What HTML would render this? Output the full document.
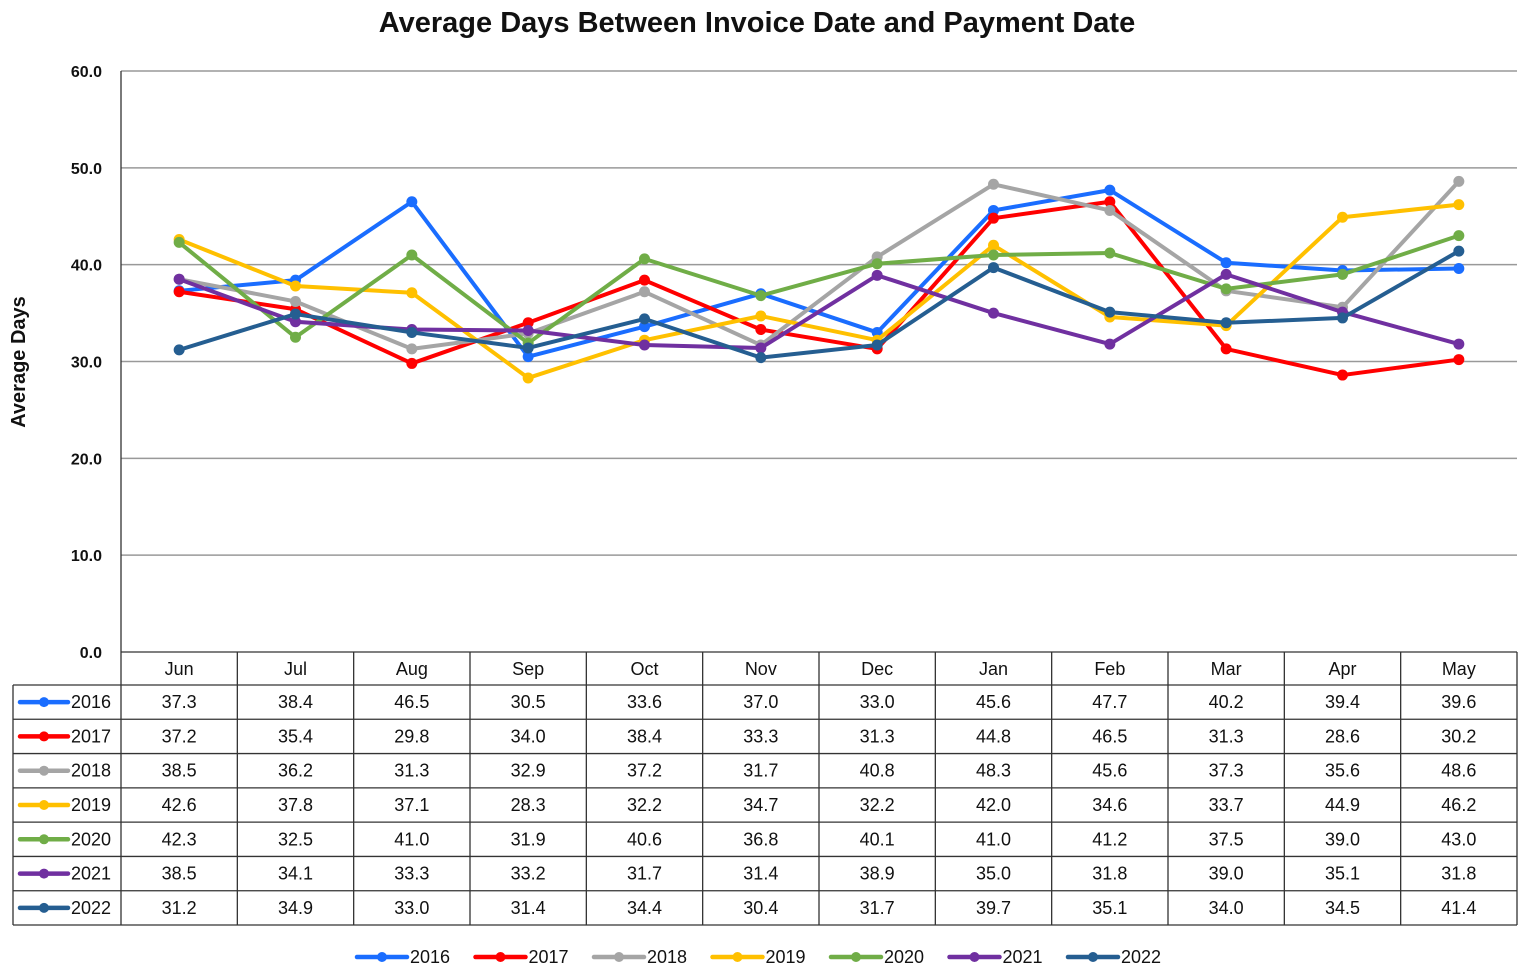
<!DOCTYPE html>
<html><head><meta charset="utf-8"><style>
body{margin:0;background:#fff;}
svg text{font-family:"Liberation Sans",sans-serif;fill:#111;}
</style></head><body>
<svg id="s" width="1525" height="975" xmlns="http://www.w3.org/2000/svg">
<text x="757" y="32" text-anchor="middle" font-size="29" font-weight="bold">Average Days Between Invoice Date and Payment Date</text>
<text transform="translate(25,362) rotate(-90)" text-anchor="middle" font-size="20" font-weight="bold">Average Days</text>
<g id="g"></g>
</svg>
<script>
var g=document.getElementById('g'),h='';
var L=121,R=1517,T=71,B=652,cw=(R-L)/12;
function Y(v){return B-v*(B-T)/60;}
for(var i=0;i<=6;i++){var y=Y(i*10);
 if(i>0)h+='<line x1="'+L+'" x2="'+R+'" y1="'+y+'" y2="'+y+'" stroke="#999" stroke-width="1.5"/>';
 h+='<text x="102" y="'+(y+6)+'" text-anchor="end" font-size="16" font-weight="bold">'+(i*10).toFixed(1)+'</text>';}
var m=['Jun','Jul','Aug','Sep','Oct','Nov','Dec','Jan','Feb','Mar','Apr','May'];
var S=[['2016','#1a6dff',[37.3,38.4,46.5,30.5,33.6,37.0,33.0,45.6,47.7,40.2,39.4,39.6]],
['2017','#ff0000',[37.2,35.4,29.8,34.0,38.4,33.3,31.3,44.8,46.5,31.3,28.6,30.2]],
['2018','#a5a5a5',[38.5,36.2,31.3,32.9,37.2,31.7,40.8,48.3,45.6,37.3,35.6,48.6]],
['2019','#ffc000',[42.6,37.8,37.1,28.3,32.2,34.7,32.2,42.0,34.6,33.7,44.9,46.2]],
['2020','#70ad47',[42.3,32.5,41.0,31.9,40.6,36.8,40.1,41.0,41.2,37.5,39.0,43.0]],
['2021','#7030a0',[38.5,34.1,33.3,33.2,31.7,31.4,38.9,35.0,31.8,39.0,35.1,31.8]],
['2022','#255e91',[31.2,34.9,33.0,31.4,34.4,30.4,31.7,39.7,35.1,34.0,34.5,41.4]]];
var rows=[652,685];var rh=(925-685)/7;for(var r=1;r<=7;r++)rows.push(685+r*rh);
h+='<line x1="'+L+'" x2="'+R+'" y1="652" y2="652" stroke="#333" stroke-width="1.3"/>';
for(var r=1;r<rows.length;r++)h+='<line x1="13" x2="'+R+'" y1="'+rows[r]+'" y2="'+rows[r]+'" stroke="#333" stroke-width="1.3"/>';
h+='<line x1="13" x2="13" y1="685" y2="925" stroke="#333" stroke-width="1.3"/>';
h+='<line x1="'+L+'" x2="'+L+'" y1="71" y2="925" stroke="#333" stroke-width="1.3"/>';
for(var c=1;c<=12;c++){var x=L+c*cw;h+='<line x1="'+x+'" x2="'+x+'" y1="652" y2="925" stroke="#333" stroke-width="1.3"/>';}
for(var c=0;c<12;c++)h+='<text x="'+(L+(c+.5)*cw)+'" y="675" text-anchor="middle" font-size="18">'+m[c]+'</text>';
S.forEach(function(s,k){var ty=685+k*rh+rh/2+6;
 h+='<line x1="20" x2="68" y1="'+(ty-6)+'" y2="'+(ty-6)+'" stroke="'+s[1]+'" stroke-width="4.5" stroke-linecap="round"/><circle cx="44" cy="'+(ty-6)+'" r="5" fill="'+s[1]+'"/>';
 h+='<text x="71" y="'+ty+'" font-size="18">'+s[0]+'</text>';
 for(var c=0;c<12;c++)h+='<text x="'+(L+(c+.5)*cw)+'" y="'+ty+'" text-anchor="middle" font-size="18">'+s[2][c].toFixed(1)+'</text>';
 var lx=357+k*118.5;
 h+='<line x1="'+lx+'" x2="'+(lx+50)+'" y1="957" y2="957" stroke="'+s[1]+'" stroke-width="4.5" stroke-linecap="round"/><circle cx="'+(lx+25)+'" cy="957" r="5" fill="'+s[1]+'"/>';
 h+='<text x="'+(lx+53)+'" y="963" font-size="18">'+s[0]+'</text>';
});
S.forEach(function(s){var p=s[2].map(function(v,c){return (L+(c+.5)*cw)+','+Y(v)}).join(' ');
 h+='<polyline points="'+p+'" fill="none" stroke="'+s[1]+'" stroke-width="4" stroke-linejoin="round"/>';
 s[2].forEach(function(v,c){h+='<circle cx="'+(L+(c+.5)*cw)+'" cy="'+Y(v)+'" r="5.5" fill="'+s[1]+'"/>';});
});
g.innerHTML=h;
</script>
</body></html>
